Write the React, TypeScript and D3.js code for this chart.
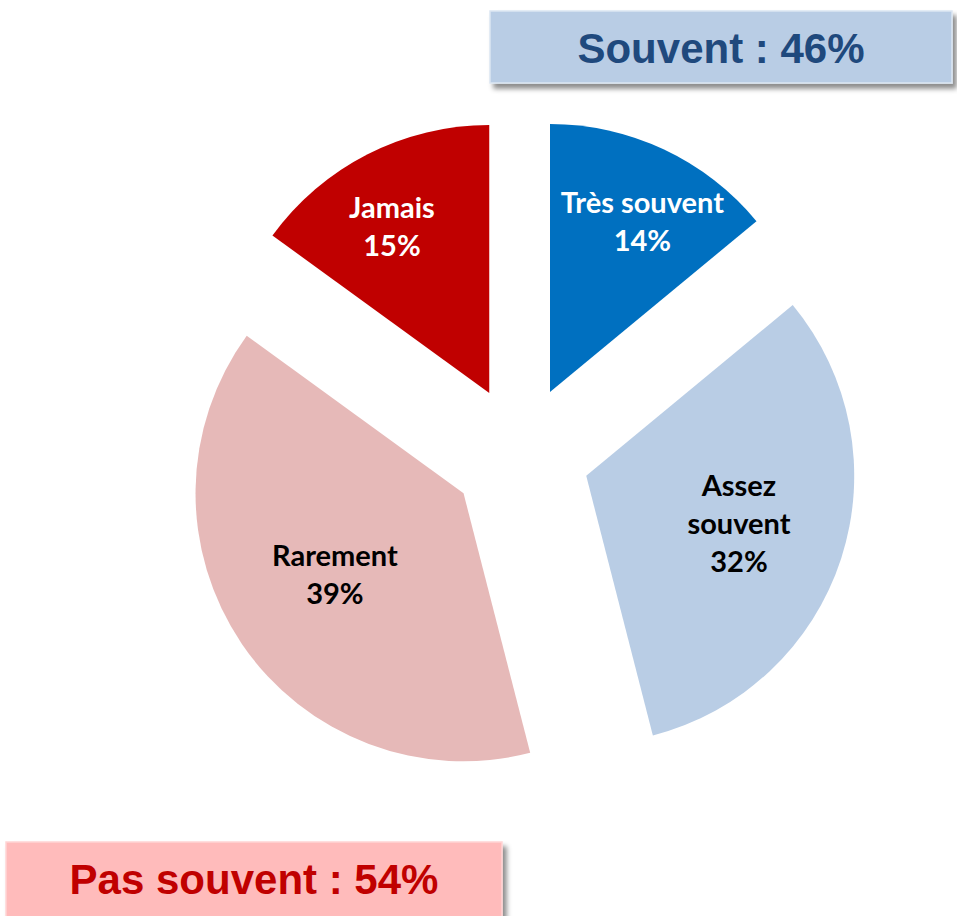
import React, { useRef, useEffect } from 'react';
import * as d3 from 'd3';

const categories = ['Très souvent', 'Assez souvent', 'Rarement', 'Jamais'];
const labelLines = [['Très souvent', '14%'], ['Assez', 'souvent', '32%'], ['Rarement', '39%'], ['Jamais', '15%']];
const values = [14, 32, 39, 15];
const colors = ['#0070c0', '#b9cde5', '#e6b9b8', '#c00000'];
const textColors = ['#ffffff', '#000000', '#000000', '#ffffff'];
const summaryLabels = ['Souvent : 46%', 'Pas souvent : 54%'];

const App: React.FC = () => {
  const svgRef = useRef<SVGSVGElement | null>(null);

  useEffect(() => {
    if (!svgRef.current) return;
    const width = 957;
    const height = 916;
    const cx = 520.6;
    const cy = 454.5;
    const radius = 268;
    const explode = 69;

    const svg = d3.select(svgRef.current);
    svg.selectAll('*').remove();
    svg
      .attr('width', width)
      .attr('height', height)
      .style('position', 'absolute')
      .style('left', '0px')
      .style('top', '0px')
      .style('background', '#fff');

    // ombre des encadrés
    const defs = svg.append('defs');
    const filter = defs.append('filter').attr('id', 'shadow').attr('x', '-10%').attr('y', '-20%').attr('width', '130%').attr('height', '160%');
    filter.append('feDropShadow').attr('dx', 4).attr('dy', 5).attr('stdDeviation', 2.5).attr('flood-color', '#000').attr('flood-opacity', 0.45);

    const data = categories.map((c, i) => ({ name: c, value: values[i], i }));
    const pie = d3.pie<any>().value((d) => d.value).sort(null);
    const arcs = pie(data);
    const arc = d3.arc<any>().innerRadius(0).outerRadius(radius);

    const g = svg.append('g').attr('transform', `translate(${cx},${cy})`);

    const slices = g
      .selectAll('.slice')
      .data(arcs)
      .enter()
      .append('g')
      .attr('transform', (d) => {
        const a = (d.startAngle + d.endAngle) / 2;
        return `translate(${explode * Math.sin(a)},${-explode * Math.cos(a)})`;
      });

    slices
      .append('path')
      .attr('d', arc as any)
      .attr('fill', (d) => colors[d.data.i]);

    // étiquettes
    slices.each(function (d) {
      const a = (d.startAngle + d.endAngle) / 2;
      const lr = radius * (0.78 - (0.6 * d.data.value) / 100);
      const lx = lr * Math.sin(a) * (1 + 0.2 * Math.cos(a) * Math.cos(a));
      const ly = -lr * Math.cos(a);
      const lines = labelLines[d.data.i];
      const lh = 38;
      const t = d3
        .select(this)
        .append('text')
        .attr('text-anchor', 'middle')
        .attr('font-family', 'Lato, "Open Sans", sans-serif')
        .attr('font-weight', 'bold')
        .attr('font-size', 29)
        .attr('fill', textColors[d.data.i]);
      lines.forEach((ln, k) => {
        t.append('tspan')
          .attr('x', lx)
          .attr('y', ly + (k - (lines.length - 1) / 2) * lh + 9)
          .text(ln);
      });
    });

    // encadrés de synthèse
    const boxes = [
      { x: 490, y: 11, w: 462, h: 72, fill: '#b9cde5', stroke: '#dce6f2', color: '#1f497d', text: summaryLabels[0] },
      { x: 6, y: 842, w: 496, h: 76, fill: '#ffbbbb', stroke: '#ffd5d5', color: '#c00000', text: summaryLabels[1] },
    ];
    boxes.forEach((b) => {
      svg
        .append('rect')
        .attr('x', b.x)
        .attr('y', b.y)
        .attr('width', b.w)
        .attr('height', b.h)
        .attr('fill', b.fill)
        .attr('stroke', b.stroke)
        .attr('stroke-width', 1.5)
        .attr('filter', 'url(#shadow)');
      svg
        .append('text')
        .attr('x', b.x + b.w / 2)
        .attr('y', b.y + 52)
        .attr('text-anchor', 'middle')
        .attr('font-family', '"Liberation Sans", Arial, sans-serif')
        .attr('font-weight', 'bold')
        .attr('font-size', 42)
        .attr('fill', b.color)
        .text(b.text);
    });
  }, []);

  return <svg ref={svgRef} />;
};

export default App;
